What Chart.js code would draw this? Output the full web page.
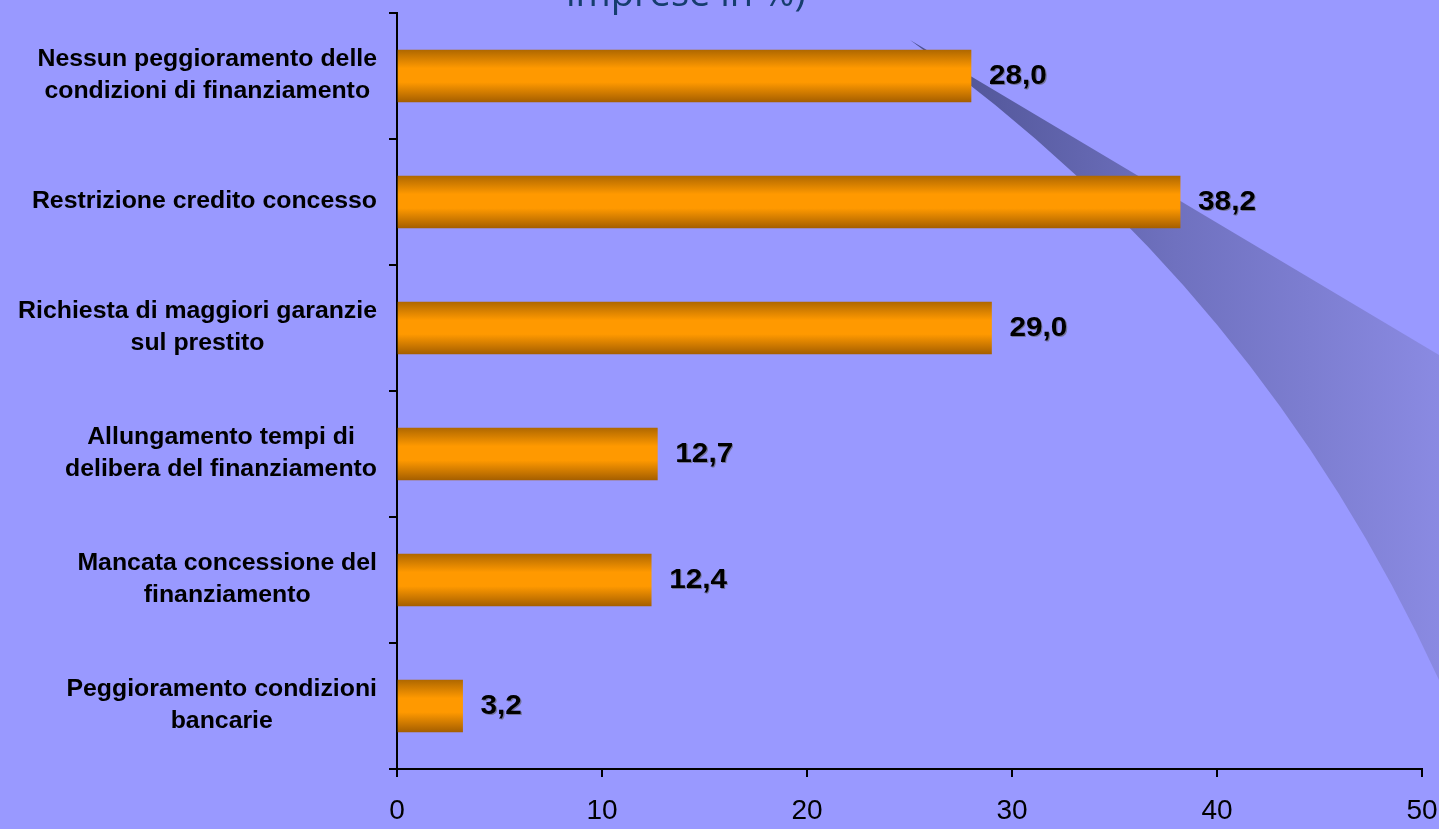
<!DOCTYPE html>
<html>
<head>
<meta charset="utf-8">
<script src="https://cdn.jsdelivr.net/npm/chart.js@4"></script>
<style>
  html, body { margin: 0; padding: 0; background: #9999ff; overflow: hidden; }
  #wrap { width: 1439px; height: 829px; }
</style>
</head>
<body>
<div id="wrap"><canvas id="barChart" width="1439" height="829"></canvas></div>
<script>
const categories = [
    ['Nessun peggioramento delle', 'condizioni di finanziamento'],
    ['Restrizione credito concesso'],
    ['Richiesta di maggiori garanzie', 'sul prestito'],
    ['Allungamento tempi di', 'delibera del finanziamento'],
    ['Mancata concessione del', 'finanziamento'],
    ['Peggioramento condizioni', 'bancarie']
];
const values = [28.0, 38.2, 29.0, 12.7, 12.4, 3.2];
const xTicks = [0, 10, 20, 30, 40, 50];
const titleText = 'imprese in %)';

const ctx = document.getElementById('barChart').getContext('2d');

// orange cylinder look, one gradient per bar
function barGradient(c) {
    const chart = c.chart;
    const y = chart.scales.y;
    if (!y || !chart.chartArea) return '#ff9900';
    const mid = y.getPixelForValue(c.dataIndex);
    const g = chart.ctx.createLinearGradient(0, mid - 26, 0, mid + 26);
    g.addColorStop(0, '#b06800');
    g.addColorStop(0.35, '#ff9900');
    g.addColorStop(0.62, '#ff9900');
    g.addColorStop(1, '#a65f00');
    return g;
}

const decoration = {
    id: 'decoration',
    beforeDatasetsDraw(chart) {
        const c = chart.ctx;
        c.save();
        // swoosh on the right
        const g = c.createLinearGradient(910, 0, 1439, 0);
        g.addColorStop(0, '#4b5090');
        g.addColorStop(0.5, '#6f71bf');
        g.addColorStop(1, '#8a8ae2');
        c.beginPath();
        c.moveTo(910, 40);
        c.lineTo(1439, 355);
        c.lineTo(1439, 680);
        c.quadraticCurveTo(1260, 290, 910, 40);
        c.closePath();
        c.fillStyle = g;
        c.fill();
        // title, cut at top of the picture
        c.fillStyle = '#163d6e';
        c.font = '38px "Open Sans"';
        c.textAlign = 'left';
        c.textBaseline = 'alphabetic';
        c.fillText(titleText, 566, 6);
        c.restore();
    },
    afterDraw(chart) {
        const c = chart.ctx;
        const y = chart.scales.y;
        c.save();
        c.fillStyle = '#000';
        c.textBaseline = 'middle';
        c.textAlign = 'center';
        // category labels: block right-aligned, lines centred
        c.font = 'bold 23px "Liberation Sans"';
        const stretch = 1.08;
        categories.forEach((lines, i) => {
            const cy = y.getPixelForValue(i);
            const bw = Math.max(...lines.map(t => c.measureText(t).width)) * stretch;
            const cx = 377 - bw / 2;
            lines.forEach((t, k) => {
                const ly = cy + (k - (lines.length - 1) / 2) * 32;
                c.save();
                c.translate(cx, ly);
                c.scale(stretch, 1);
                c.fillText(t, 0, 0);
                c.restore();
            });
        });
        // value labels
        c.font = 'bold 27px "Liberation Sans"';
        c.textAlign = 'left';
        const meta = chart.getDatasetMeta(0);
        meta.data.forEach((bar, i) => {
            const txt = values[i].toFixed(1).replace('.', ',');
            c.save();
            c.translate(bar.x + 18, bar.y + 1);
            c.scale(1.1, 1);
            c.fillStyle = 'rgba(90,90,90,0.6)';
            c.fillText(txt, 1, 1);
            c.fillStyle = '#000';
            c.fillText(txt, 0, 0);
            c.restore();
        });
        c.restore();
    }
};

const barChart = new Chart(ctx, {
    type: 'bar',
    data: {
        labels: categories,
        datasets: [{
            data: values,
            backgroundColor: barGradient,
            borderWidth: 0,
            barThickness: 52
        }]
    },
    options: {
        indexAxis: 'y',
        responsive: false,
        animation: false,
        layout: { padding: { left: 389, right: 17, top: 13, bottom: 0 } },
        plugins: {
            legend: { display: false },
            tooltip: { enabled: false }
        },
        scales: {
            y: {
                type: 'category',
                ticks: { display: false },
                grid: { drawOnChartArea: false, color: '#000', lineWidth: 2, tickLength: 8, offset: true },
                border: { color: '#000', width: 2 },
                afterFit(scale) { scale.width = 8; }
            },
            x: {
                min: 0,
                max: 50,
                afterBuildTicks(scale) { scale.ticks = xTicks.map(v => ({ value: v })); },
                ticks: {
                    color: '#000',
                    font: { family: '"Liberation Sans"', size: 28 },
                    padding: 17,
                    maxRotation: 0
                },
                grid: { drawOnChartArea: false, color: '#000', lineWidth: 2, tickLength: 8 },
                border: { color: '#000', width: 2 },
                afterFit(scale) {
                    scale.height = 60;
                    scale.paddingLeft = 0;
                    scale.paddingRight = 0;
                }
            }
        }
    },
    plugins: [decoration]
});
</script>
</body>
</html>
